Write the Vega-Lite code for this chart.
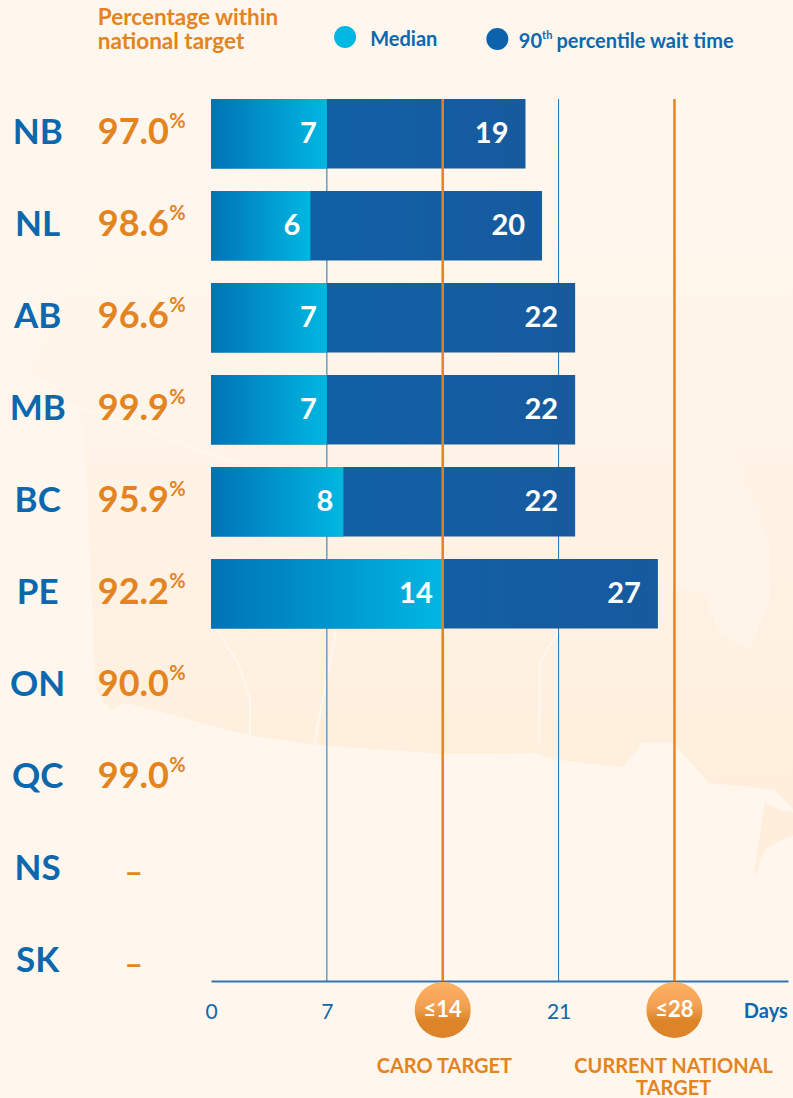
{
"$schema":"https://vega.github.io/schema/vega-lite/v6.json",
"width":577,"height":882,
"autosize":{"type":"none"},
"padding":{"left":211,"top":99,"right":5,"bottom":117},
"background":"#FFF6ED",
"config":{"view":{"stroke":null},"font":"Lato","text":{"font":"Lato"},"axisX":{"grid":false,"ticks":false,"domainColor":"#2F75B0","domainWidth":2,"labelColor":"#0B68AE","labelFontSize":21,"labelFont":"Lato","labelPadding":20,"labelFlush":false,"titleOpacity":0,"titleFontSize":1}},
"datasets":{
"rows":[
{"province":"NB","pct":"97.0","median":7,"p90":19},
{"province":"NL","pct":"98.6","median":6,"p90":20},
{"province":"AB","pct":"96.6","median":7,"p90":22},
{"province":"MB","pct":"99.9","median":7,"p90":22},
{"province":"BC","pct":"95.9","median":8,"p90":22},
{"province":"PE","pct":"92.2","median":14,"p90":27},
{"province":"ON","pct":"90.0","median":null,"p90":null},
{"province":"QC","pct":"99.0","median":null,"p90":null},
{"province":"NS","pct":null,"median":null,"p90":null},
{"province":"SK","pct":null,"median":null,"p90":null}
],
"map":[
{"d":-10.77,"t":360,"b":372},{"d":-9.13,"t":300,"b":392},{"d":-7.86,"t":275,"b":415},{"d":-7.44,"t":262,"b":500},{"d":-7.2,"t":255,"b":600},{"d":-6.96,"t":250,"b":690},{"d":-6.11,"t":235,"b":710},{"d":-5.14,"t":220,"b":703},{"d":2.24,"t":170,"b":735},{"d":6.23,"t":160,"b":745},{"d":14.16,"t":150,"b":754},{"d":19.66,"t":145,"b":753},{"d":20.27,"t":145,"b":758},{"d":22.44,"t":140,"b":763},{"d":24.86,"t":135,"b":767},{"d":26.07,"t":135,"b":743},{"d":27.95,"t":130,"b":743},{"d":30.07,"t":130,"b":783},{"d":32.0,"t":125,"b":786},{"d":34.06,"t":125,"b":790},{"d":35.21,"t":120,"b":810}
],
"bay":[
{"d":27.89,"t":300,"b":590},{"d":29.76,"t":340,"b":592},{"d":30.67,"t":413,"b":633},{"d":32.55,"t":493,"b":650},{"d":33.76,"t":547,"b":600}
],
"lobe":[
{"d":32.85,"t":870,"b":877},{"d":33.45,"t":802,"b":850},{"d":34.42,"t":810,"b":840},{"d":35.21,"t":812,"b":835}
],
"borders":[
{"k":"a","s":1,"d":0.36,"y":630},{"k":"a","s":2,"d":1.63,"y":663},{"k":"a","s":3,"d":2.36,"y":700},{"k":"a","s":4,"d":2.36,"y":735},
{"k":"b","s":1,"d":7.56,"y":630},{"k":"b","s":2,"d":6.23,"y":745},
{"k":"c","s":1,"d":21.05,"y":630},{"k":"c","s":2,"d":19.84,"y":663},{"k":"c","s":3,"d":19.84,"y":743},
{"k":"e","s":1,"d":-8.77,"y":403},{"k":"e","s":2,"d":1.63,"y":463}
],
"notes":[
{"t":"Percentage within","d":-6.84,"y":18,"g":"title"},
{"t":"national target","d":-6.84,"y":42,"g":"title"},
{"t":"Median","d":9.62,"y":40,"g":"legend"},
{"t":"90","d":18.6,"y":42,"g":"legend"},
{"t":"percentile wait time","d":20.87,"y":42,"g":"legend"},
{"t":"Days","d":32.19,"y":1012,"g":"legend2"},
{"t":"CARO TARGET","d":14.1,"y":1067,"g":"caption"},
{"t":"CURRENT NATIONAL","d":27.95,"y":1067,"g":"caption"},
{"t":"TARGET","d":27.95,"y":1089,"g":"caption"}
],
"targets":[{"day":14,"label":"≤14"},{"day":28,"label":"≤28"}],
"grid":[{"day":7},{"day":21}]
},
"resolve":{"scale":{"y":"independent"}},
"layer":[
{"layer":[
{"data":{"name":"map"},"mark":{"type":"area","orient":"vertical","fill":{"gradient":"linear","x1":0,"y1":0,"x2":0,"y2":1,"stops":[{"offset":0,"color":"#FFF7EF"},{"offset":0.45,"color":"#FFF4E8"},{"offset":1,"color":"#FFEEDB"}]}},
"encoding":{"x":{"field":"d","type":"quantitative","title":null,"scale":{"domain":[0,34.86],"nice":false,"zero":false}},"y":{"field":"t","type":"quantitative","scale":{"domain":[99,981],"range":[0,882],"nice":false,"zero":false},"axis":null},"y2":{"field":"b"}}},
{"data":{"name":"bay"},"mark":{"type":"area","orient":"vertical","fill":"#FFF4E9"},
"encoding":{"x":{"field":"d","type":"quantitative","title":null},"y":{"field":"t","type":"quantitative","axis":null},"y2":{"field":"b"}}},
{"data":{"name":"lobe"},"mark":{"type":"area","orient":"vertical","fill":"#FFEEDB"},
"encoding":{"x":{"field":"d","type":"quantitative","title":null},"y":{"field":"t","type":"quantitative","axis":null},"y2":{"field":"b"}}},
{"data":{"name":"borders"},"mark":{"type":"line","stroke":"#FFF7F0","strokeWidth":2},
"encoding":{"x":{"field":"d","type":"quantitative","title":null},"y":{"field":"y","type":"quantitative","axis":null},"detail":{"field":"k"},"order":{"field":"s"}}}
]},
{"data":{"name":"grid"},"mark":{"type":"rule","stroke":"#1F6FAE","strokeWidth":1},
"encoding":{"x":{"field":"day","type":"quantitative","title":null,"axis":{"title":null,"values":[0,7,21]}}}},
{"data":{"name":"rows"},
"encoding":{"y":{"field":"province","type":"nominal","sort":null,"axis":null,"scale":{"range":[0,897.5],"paddingInner":0.245,"paddingOuter":0}}},
"layer":[
{"mark":{"type":"bar","fill":{"gradient":"linear","x1":0,"y1":0,"x2":1,"y2":0,"stops":[{"offset":0,"color":"#0D63AB"},{"offset":1,"color":"#175A9E"}]}},"encoding":{"x":{"field":"p90","type":"quantitative","title":null}}},
{"mark":{"type":"bar","fill":{"gradient":"linear","x1":0,"y1":0,"x2":1,"y2":0,"stops":[{"offset":0,"color":"#0073B6"},{"offset":1,"color":"#00B7E1"}]}},"encoding":{"x":{"field":"median","type":"quantitative","title":null}}},
{"transform":[{"filter":"isValid(datum.median)"}],"mark":{"type":"text","align":"right","baseline":"middle","dx":-10,"dy":0,"fontSize":29,"fontWeight":"bold","fill":"#FFFFFF"},"encoding":{"x":{"field":"median","type":"quantitative","title":null},"text":{"field":"median","type":"quantitative"}}},
{"transform":[{"filter":"isValid(datum.p90)"}],"mark":{"type":"text","align":"right","baseline":"middle","dx":-17,"dy":0,"fontSize":29,"fontWeight":"bold","fill":"#FFFFFF"},"encoding":{"x":{"field":"p90","type":"quantitative","title":null},"text":{"field":"p90","type":"quantitative"}}},
{"mark":{"type":"text","align":"center","baseline":"middle","dy":-1,"fontSize":35,"fontWeight":"bold","fill":"#0B68AE"},"encoding":{"x":{"datum":-10.47,"type":"quantitative","title":null},"text":{"field":"province"}}},
{"transform":[{"filter":"isValid(datum.pct)"}],"mark":{"type":"text","align":"left","baseline":"middle","dy":-1,"fontSize":36,"fontWeight":"bold","fill":"#E38420"},"encoding":{"x":{"datum":-6.84,"type":"quantitative","title":null},"text":{"field":"pct"}}},
{"transform":[{"filter":"isValid(datum.pct)"}],"mark":{"type":"text","align":"left","baseline":"middle","dy":-12,"fontSize":20,"fontWeight":"bold","fill":"#E38420"},"encoding":{"x":{"datum":-2.52,"type":"quantitative","title":null},"text":{"value":"%"}}},
{"transform":[{"filter":"!isValid(datum.pct)"}],"mark":{"type":"text","align":"center","baseline":"middle","dy":3,"fontSize":32,"fontWeight":"bold","fill":"#E38420"},"encoding":{"x":{"datum":-4.66,"type":"quantitative","title":null},"text":{"value":"–"}}}
]},
{"data":{"name":"targets"},"mark":{"type":"rule","stroke":"#E38420","strokeWidth":2.5},"encoding":{"x":{"field":"day","type":"quantitative","title":null}}},
{"layer":[
{"data":{"name":"targets"},"mark":{"type":"point","filled":true,"size":3136,"opacity":1,"fill":{"gradient":"linear","x1":0,"y1":0,"x2":0,"y2":1,"stops":[{"offset":0,"color":"#FFB262"},{"offset":0.45,"color":"#F0A050"},{"offset":0.7,"color":"#DC8427"},{"offset":1,"color":"#DC8427"}]}},
"encoding":{"x":{"field":"day","type":"quantitative","title":null},"y":{"datum":1010,"type":"quantitative","axis":null,"scale":{"domain":[99,981],"range":[0,882],"nice":false,"zero":false}}}},
{"data":{"name":"targets"},"mark":{"type":"text","align":"center","baseline":"middle","fontSize":22,"fontWeight":"bold","fill":"#FFFFFF"},
"encoding":{"x":{"field":"day","type":"quantitative","title":null},"y":{"datum":1010,"type":"quantitative","axis":null},"text":{"field":"label"}}},
{"data":{"values":[{"d":8.1,"y":37,"c":"#00B7E1"},{"d":17.3,"y":39,"c":"#0D63AB"}]},"mark":{"type":"point","filled":true,"size":484,"opacity":1},
"encoding":{"x":{"field":"d","type":"quantitative","title":null},"y":{"field":"y","type":"quantitative","axis":null},"fill":{"field":"c","type":"nominal","scale":null}}},
{"data":{"name":"notes"},"transform":[{"filter":"datum.g=='title'"}],"mark":{"type":"text","align":"left","baseline":"middle","fontSize":22.5,"fontWeight":"bold","fill":"#E38420"},
"encoding":{"x":{"field":"d","type":"quantitative","title":null},"y":{"field":"y","type":"quantitative","axis":null},"text":{"field":"t"}}},
{"data":{"name":"notes"},"transform":[{"filter":"datum.g=='legend'"}],"mark":{"type":"text","align":"left","baseline":"middle","fontSize":20,"fontWeight":"bold","fill":"#0B68AE"},
"encoding":{"x":{"field":"d","type":"quantitative","title":null},"y":{"field":"y","type":"quantitative","axis":null},"text":{"field":"t"}}},
{"data":{"values":[{"t":"th","d":20.0,"y":36}]},"mark":{"type":"text","align":"left","baseline":"middle","fontSize":11,"fontWeight":"bold","fill":"#0B68AE"},
"encoding":{"x":{"field":"d","type":"quantitative","title":null},"y":{"field":"y","type":"quantitative","axis":null},"text":{"field":"t"}}},
{"data":{"name":"notes"},"transform":[{"filter":"datum.g=='legend2'"}],"mark":{"type":"text","align":"left","baseline":"middle","fontSize":20,"fontWeight":"bold","fill":"#0B68AE"},
"encoding":{"x":{"field":"d","type":"quantitative","title":null},"y":{"field":"y","type":"quantitative","axis":null},"text":{"field":"t"}}},
{"data":{"name":"notes"},"transform":[{"filter":"datum.g=='caption'"}],"mark":{"type":"text","align":"center","baseline":"middle","fontSize":20,"fontWeight":"bold","fill":"#E38420"},
"encoding":{"x":{"field":"d","type":"quantitative","title":null},"y":{"field":"y","type":"quantitative","axis":null},"text":{"field":"t"}}}
]}
]
}
